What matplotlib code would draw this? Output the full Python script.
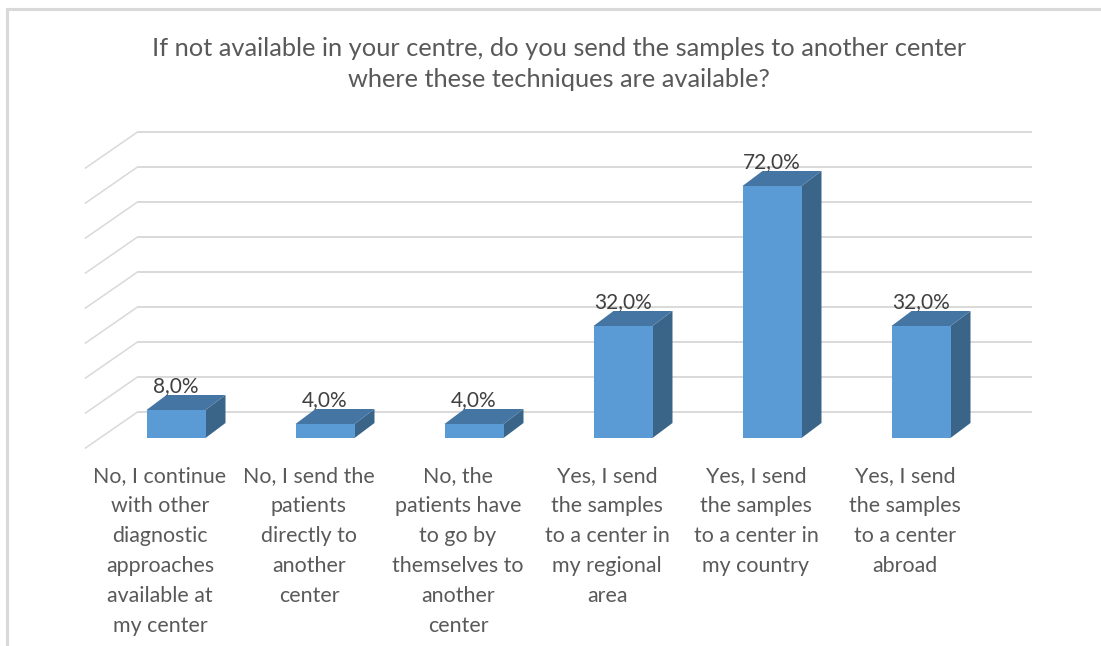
import matplotlib.pyplot as plt
from matplotlib.patches import Polygon
from matplotlib.lines import Line2D

plt.rcParams['font.family'] = ['Lato', 'DejaVu Sans']

# survey answers and shares (%)
categories = [
    "No, I continue\nwith other\ndiagnostic\napproaches\navailable at\nmy center",
    "No, I send the\npatients\ndirectly to\nanother\ncenter",
    "No, the\npatients have\nto go by\nthemselves to\nanother\ncenter",
    "Yes, I send\nthe samples\nto a center in\nmy regional\narea",
    "Yes, I send\nthe samples\nto a center in\nmy country",
    "Yes, I send\nthe samples\nto a center\nabroad",
]
values = [8.0, 4.0, 4.0, 32.0, 72.0, 32.0]
grid_ticks = [0, 10, 20, 30, 40, 50, 60, 70, 80]
title = ("If not available in your centre, do you send the samples to another center\n"
         "where these techniques are available?")

W, H = 1101, 646
fig = plt.figure(figsize=(W / 100, H / 100), dpi=100)
ax = fig.add_axes([0, 0, 1, 1])
ax.axis('off')

# pixel scale of the pseudo-3d box
px_cat = 149.0     # pixels per category
px_pct = 3.5       # pixels per percent
x0_px, y0_px = 176, 438   # centre of first bar / baseline of bar fronts
ax.set_xlim(-x0_px / px_cat, (W - x0_px) / px_cat)
ax.set_ylim((y0_px - H) / px_pct, y0_px / px_pct)

# depth offsets (category units, percent units)
back_dx, back_dy = 36 / px_cat, 26 / px_pct
front_dx, front_dy = -16 / px_cat, -10 / px_pct
bar_dx, bar_dy = 20 / px_cat, 15 / px_pct
bar_w = 59 / px_cat

grid_col = '#d9d9d9'
left = -0.5
right = len(categories) - 0.5
for g in grid_ticks:
    # back wall
    ax.plot([left + back_dx, right + back_dx], [g + back_dy, g + back_dy],
            color=grid_col, lw=1.4, zorder=1, solid_capstyle='butt')
    # side wall
    ax.plot([left + back_dx, left + front_dx], [g + back_dy, g + front_dy],
            color=grid_col, lw=1.1, zorder=1)

front_col = '#5b9bd5'
top_col = '#4575a3'
side_col = '#3a6488'
for i, v in enumerate(values):
    xl, xr = i - bar_w / 2, i + bar_w / 2
    front = Polygon([(xl, 0), (xr, 0), (xr, v), (xl, v)], closed=True,
                    facecolor=front_col, edgecolor='none', zorder=3)
    side = Polygon([(xr, 0), (xr + bar_dx, bar_dy), (xr + bar_dx, v + bar_dy), (xr, v)],
                   closed=True, facecolor=side_col, edgecolor='none', zorder=3)
    top = Polygon([(xl, v), (xr, v), (xr + bar_dx, v + bar_dy), (xl + bar_dx, v + bar_dy)],
                  closed=True, facecolor=top_col, edgecolor='none', zorder=3)
    for p in (side, top, front):
        ax.add_patch(p)
    ax.text(i, v + 6.9, f"{v:.1f}%".replace('.', ','), ha='center', va='center',
            fontsize=15, color='#404040', zorder=4)

# category labels under the floor
for i, lab in enumerate(categories):
    ax.text(i + front_dx, (y0_px - 466) / px_pct, lab, ha='center', va='top',
            fontsize=15.4, color='#595959', linespacing=1.62)

fig.text(559 / W, 1 - 64 / H, title, ha='center', va='center', fontsize=18.3,
         color='#595959', linespacing=1.4)

# chart area border (top and left edges)
fig.add_artist(Line2D([7 / W, 1], [1 - 9 / H, 1 - 9 / H], transform=fig.transFigure,
                      color=grid_col, lw=2.2))
fig.add_artist(Line2D([7 / W, 7 / W], [0, 1 - 9 / H], transform=fig.transFigure,
                      color=grid_col, lw=2.2))

fig.savefig('out.png', dpi=100)
